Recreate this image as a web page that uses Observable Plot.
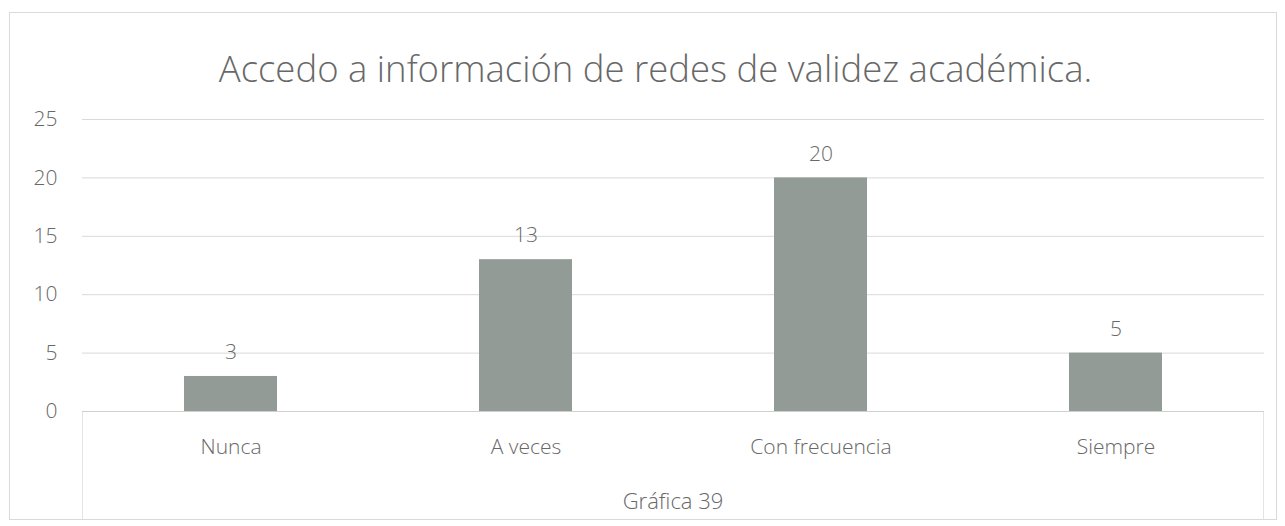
<!DOCTYPE html>
<html>
<head>
<meta charset="utf-8">
<script src="https://cdn.jsdelivr.net/npm/d3@7"></script>
<script src="https://cdn.jsdelivr.net/npm/@observablehq/plot@0.6"></script>
<style>
  html, body { margin: 0; padding: 0; background: #fff; }
  body { width: 1285px; height: 526px; position: relative; overflow: hidden; font-family: "Open Sans", sans-serif; }
  #frame { position: absolute; left: 9px; top: 12px; width: 1268px; height: 508px; border: 1px solid #d9d9d9; box-sizing: border-box; }
  #title { position: absolute; left: 13px; width: 1285px; top: 43px; text-align: center; font-size: 36.5px; font-weight: 300; color: #686868; white-space: nowrap; }
  #chart { position: absolute; left: 0; top: 0; }
  #inner { position: absolute; left: 82px; top: 411px; width: 1182px; height: 108px; border-left: 1px solid #e4e4e4; border-right: 1px solid #e4e4e4; box-sizing: border-box; }
  #caption { position: absolute; left: 82px; width: 1182px; top: 485px; text-align: center; font-size: 22px; font-weight: 300; color: #686868; }
</style>
</head>
<body>
<div id="frame"></div>
<div id="inner"></div>
<div id="title">Accedo a información de redes de validez académica.</div>
<div id="chart"></div>
<div id="caption">Gráfica 39</div>
<script>
const categories = ["Nunca", "A veces", "Con frecuencia", "Siempre"];
const values = [3, 13, 20, 5];
const yTicks = [0, 5, 10, 15, 20, 25];

const data = categories.map((c, i) => ({category: c, value: values[i]}));

const chart = Plot.plot({
  width: 1285,
  height: 526,
  marginTop: 119,
  marginBottom: 115,
  marginLeft: 82,
  marginRight: 21,
  style: {fontFamily: "'Open Sans', sans-serif", fontSize: "21px", fontWeight: 300, color: "#686868", background: "transparent"},
  x: {domain: categories, paddingInner: 0.685, paddingOuter: 0.3425, label: null, tickSize: 0, tickPadding: 28},
  y: {domain: [0, 25], ticks: yTicks, label: null, tickSize: 0, tickPadding: 25},
  marks: [
    Plot.gridY(yTicks, {stroke: "#d9d9d9", strokeOpacity: 1}),
    Plot.barY(data, {x: "category", y: "value", fill: "#939b97"}),
    Plot.ruleY([0], {stroke: "#d0d0d0"}),
    Plot.text(data, {x: "category", y: "value", text: d => String(d.value), dy: -24, fill: "#686868", fontSize: 21}),
    Plot.axisX({tickSize: 0, tickPadding: 28, fontSize: 21}),
    Plot.axisY(yTicks, {tickSize: 0, tickPadding: 25, fontSize: 21})
  ]
});
document.getElementById("chart").appendChild(chart);
</script>
</body>
</html>
